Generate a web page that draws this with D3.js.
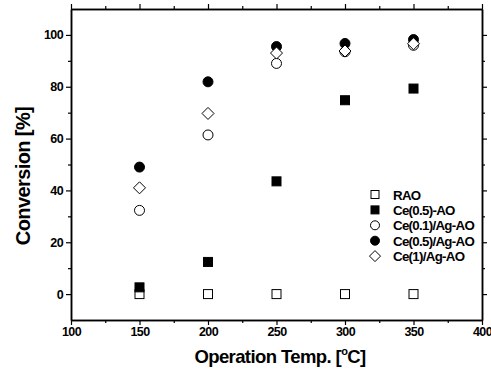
<!DOCTYPE html>
<html>
<head>
<meta charset="utf-8">
<script src="https://cdn.jsdelivr.net/npm/d3@7"></script>
<style>
  body { margin: 0; background: #fff; }
  text { font-family: "Liberation Sans", Arial, sans-serif; font-weight: bold; }
</style>
</head>
<body>
<svg width="491" height="373"></svg>
<script>
const temps = [150, 200, 250, 300, 350];
const rao = [0, 0, 0, 0, 0];
const ce05ao = [2.6, 12.4, 43.5, 74.8, 79.3];
const ce01ag = [32.3, 61.4, 89, 93.5, 96];
const ce05ag = [49, 81.9, 95.5, 96.7, 98.2];
const ce1ag = [41, 69.7, 93, 93.8, 96.6];
const xTicks = [100, 150, 200, 250, 300, 350, 400];
const yTicks = [0, 20, 40, 60, 80, 100];

const series = [
  { name: "RAO", values: rao, shape: "square", fill: "#fff" },
  { name: "Ce(0.5)-AO", values: ce05ao, shape: "square", fill: "#000" },
  { name: "Ce(0.1)/Ag-AO", values: ce01ag, shape: "circle", fill: "#fff" },
  { name: "Ce(0.5)/Ag-AO", values: ce05ag, shape: "circle", fill: "#000" },
  { name: "Ce(1)/Ag-AO", values: ce1ag, shape: "diamond", fill: "#fff" }
];

const svg = d3.select("svg");
const margin = { left: 71, top: 9, right: 9, bottom: 53 };
const width = 491 - margin.left - margin.right,
  height = 373 - margin.top - margin.bottom;

const x = d3.scaleLinear().domain([100, 400]).range([0, width]);
const y = d3.scaleLinear().domain([-10, 110]).range([height, 0]);

const g = svg.append("g").attr("transform", `translate(${margin.left},${margin.top})`);

// minor ticks
const xMinor = d3.range(125, 400, 50);
const yMinor = d3.range(-10, 110, 20).filter((v) => v > -10);

function styleAxis(sel) {
  sel.select(".domain").attr("stroke", "#000").attr("stroke-width", 1.5);
  sel.selectAll(".tick line").attr("stroke", "#000").attr("stroke-width", 1.2);
  sel.selectAll(".tick text")
    .attr("font-size", 12.5)
    .attr("letter-spacing", -0.6)
    .attr("fill", "#000");
}

// bottom
g.append("g").attr("transform", `translate(0,${height})`)
  .call(d3.axisBottom(x).tickValues(xTicks).tickSize(5).tickPadding(2.5).tickSizeOuter(0))
  .call(styleAxis);
g.append("g").attr("transform", `translate(0,${height})`)
  .call(d3.axisBottom(x).tickValues(xMinor).tickSize(3).tickFormat("").tickSizeOuter(0))
  .call(styleAxis);
// top
g.append("g")
  .call(d3.axisTop(x).tickValues(xTicks).tickSize(5).tickFormat("").tickSizeOuter(0))
  .call(styleAxis);
g.append("g")
  .call(d3.axisTop(x).tickValues(xMinor).tickSize(3).tickFormat("").tickSizeOuter(0))
  .call(styleAxis);
// left
g.append("g")
  .call(d3.axisLeft(y).tickValues(yTicks).tickSize(5).tickPadding(3).tickSizeOuter(0))
  .call(styleAxis);
g.append("g")
  .call(d3.axisLeft(y).tickValues(yMinor).tickSize(3).tickFormat("").tickSizeOuter(0))
  .call(styleAxis);
// right
g.append("g").attr("transform", `translate(${width},0)`)
  .call(d3.axisRight(y).tickValues(yTicks).tickSize(5).tickFormat("").tickSizeOuter(0))
  .call(styleAxis);
g.append("g").attr("transform", `translate(${width},0)`)
  .call(d3.axisRight(y).tickValues(yMinor).tickSize(3).tickFormat("").tickSizeOuter(0))
  .call(styleAxis);

// markers
function drawMarker(sel, shape, fill) {
  if (shape === "square") {
    sel.append("rect").attr("x", -4.5).attr("y", -4.5).attr("width", 9).attr("height", 9)
      .attr("fill", fill).attr("stroke", "#000").attr("stroke-width", 1);
  } else if (shape === "circle") {
    sel.append("circle").attr("r", 5).attr("fill", fill).attr("stroke", "#000").attr("stroke-width", 1);
  } else {
    sel.append("path").attr("d", "M0,-6L6,0L0,6L-6,0Z")
      .attr("fill", fill).attr("stroke", "#000").attr("stroke-width", 1);
  }
}

// draw in order so filled circle sits under diamond, as in the reference
const drawOrder = [0, 1, 3, 2, 4];
drawOrder.forEach((i) => {
  const s = series[i];
  g.append("g").selectAll("g")
    .data(temps.map((t, k) => ({ t, v: s.values[k] })))
    .enter()
    .append("g")
    .attr("transform", (d) => `translate(${x(d.t)},${y(d.v)})`)
    .each(function () { drawMarker(d3.select(this), s.shape, s.fill); });
});

// legend
const legend = g.append("g").attr("transform", `translate(${375 - margin.left},${194.5 - margin.top})`);
series.forEach((s, i) => {
  const row = legend.append("g").attr("transform", `translate(0,${i * 15.4})`);
  const m = row.append("g");
  if (s.shape === "square") {
    m.append("rect").attr("x", -4).attr("y", -4).attr("width", 8).attr("height", 8)
      .attr("fill", s.fill).attr("stroke", "#000");
  } else if (s.shape === "circle") {
    m.append("circle").attr("r", 4.5).attr("fill", s.fill).attr("stroke", "#000");
  } else {
    m.append("path").attr("d", "M0,-5.5L5.5,0L0,5.5L-5.5,0Z").attr("fill", s.fill).attr("stroke", "#000");
  }
  row.append("text").attr("x", 18).attr("y", 5)
    .attr("font-size", 13.3).attr("letter-spacing", -0.7)
    .text(s.name);
});

// axis titles
svg.append("text")
  .attr("transform", `translate(30,176) rotate(-90)`)
  .attr("text-anchor", "middle")
  .attr("font-size", 20)
  .attr("letter-spacing", -0.6)
  .text("Conversion [%]");

const xt = svg.append("text")
  .attr("x", 280)
  .attr("y", 363)
  .attr("text-anchor", "middle")
  .attr("font-size", 18.5)
  .attr("letter-spacing", -0.6);
xt.append("tspan").text("Operation Temp. [");
xt.append("tspan").attr("font-size", 11).attr("dy", -8).text("o");
xt.append("tspan").attr("dy", 8).text("C]");
</script>
</body>
</html>
